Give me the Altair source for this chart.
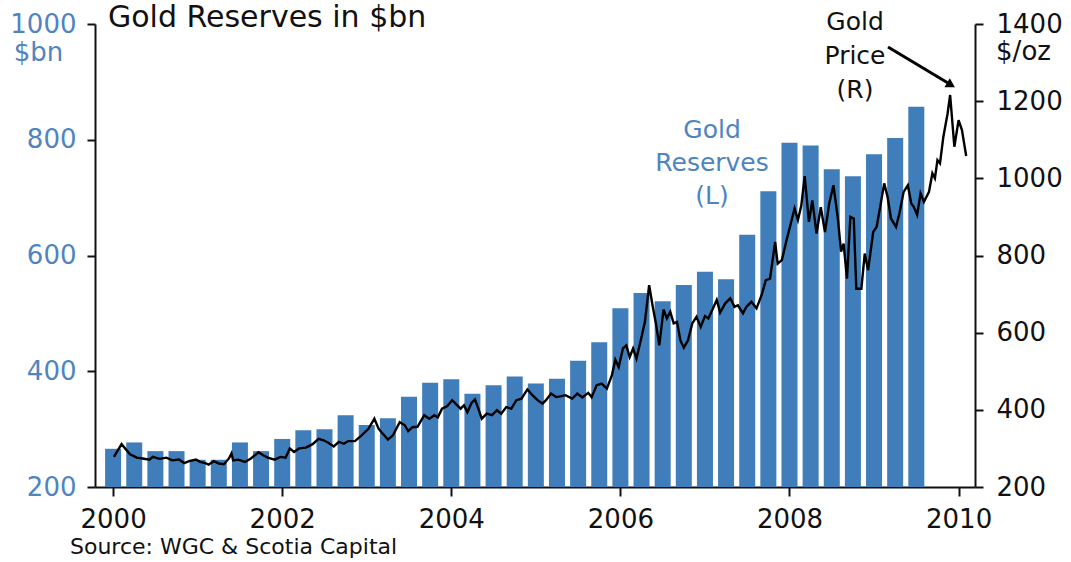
import altair as alt
import pandas as pd

# ---- data ----
quarter_start = [2000 + 0.25 * i for i in range(39)]  # 2000Q1 .. 2009Q3
reserves_bn = [266, 277, 262, 262, 247, 247, 277, 262, 283, 298, 300, 324,
               307, 319, 356, 380, 386, 361, 376, 391, 379, 387, 418, 450,
               509, 535, 521, 549, 572, 559, 636, 711, 795, 790, 749, 737,
               775, 803, 857]

price_t = [2000.01, 2000.10, 2000.20, 2000.28, 2000.35, 2000.43, 2000.47, 2000.55, 2000.63, 2000.70,
           2000.78, 2000.84, 2000.90, 2000.98, 2001.03, 2001.09, 2001.13, 2001.19, 2001.25, 2001.31,
           2001.37, 2001.40, 2001.42, 2001.48, 2001.56, 2001.63, 2001.72, 2001.77, 2001.83, 2001.91,
           2001.98, 2002.04, 2002.09, 2002.14, 2002.20, 2002.28, 2002.36, 2002.43, 2002.49, 2002.55,
           2002.61, 2002.67, 2002.73, 2002.78, 2002.86, 2002.94, 2003.02, 2003.09, 2003.14, 2003.19,
           2003.25, 2003.31, 2003.39, 2003.45, 2003.49, 2003.54, 2003.60, 2003.68, 2003.74, 2003.80,
           2003.84, 2003.89, 2003.95, 2004.01, 2004.05, 2004.11, 2004.15, 2004.19, 2004.24, 2004.28,
           2004.32, 2004.36, 2004.42, 2004.48, 2004.54, 2004.59, 2004.65, 2004.71, 2004.77, 2004.83,
           2004.90, 2004.96, 2005.02, 2005.08, 2005.12, 2005.18, 2005.24, 2005.29, 2005.35, 2005.43,
           2005.49, 2005.55, 2005.62, 2005.66, 2005.72, 2005.78, 2005.84, 2005.90, 2005.94, 2005.98,
           2006.03, 2006.07, 2006.11, 2006.15, 2006.19, 2006.25, 2006.29, 2006.34, 2006.38, 2006.42,
           2006.46, 2006.51, 2006.55, 2006.59, 2006.63, 2006.67, 2006.71, 2006.75, 2006.80, 2006.85,
           2006.90, 2006.95, 2007.00, 2007.04, 2007.10, 2007.14, 2007.18, 2007.24, 2007.30, 2007.35,
           2007.39, 2007.45, 2007.49, 2007.55, 2007.61, 2007.67, 2007.72, 2007.77, 2007.83, 2007.86,
           2007.91, 2007.96, 2008.02, 2008.06, 2008.10, 2008.14, 2008.18, 2008.23, 2008.27, 2008.32,
           2008.37, 2008.42, 2008.47, 2008.52, 2008.57, 2008.61, 2008.64, 2008.68, 2008.72, 2008.76,
           2008.79, 2008.85, 2008.89, 2008.93, 2008.99, 2009.03, 2009.08, 2009.12, 2009.16, 2009.20,
           2009.26, 2009.30, 2009.35, 2009.40, 2009.44, 2009.47, 2009.51, 2009.55, 2009.59, 2009.65,
           2009.69, 2009.72, 2009.75, 2009.78, 2009.82, 2009.87, 2009.90, 2009.95, 2010.00, 2010.04,
           2010.09]
price_usd = [278, 311, 285, 276, 274, 271, 278, 273, 276, 269,
             271, 262, 267, 271, 265, 262, 258, 267, 261, 259,
             274, 287, 269, 271, 265, 274, 290, 283, 276, 271,
             278, 276, 300, 291, 300, 302, 311, 325, 321, 314,
             305, 317, 312, 319, 319, 334, 351, 377, 351, 338,
             323, 334, 368, 360, 345, 355, 356, 386, 377, 386,
             380, 403, 409, 425, 416, 403, 412, 394, 418, 427,
             403, 377, 390, 386, 399, 390, 407, 403, 425, 429,
             453, 438, 425, 416, 425, 442, 433, 435, 438, 429,
             442, 432, 444, 433, 464, 468, 455, 490, 530, 511,
             559, 567, 537, 559, 533, 589, 628, 723, 671, 624,
             567, 660, 637, 654, 624, 628, 580, 561, 580, 624,
             641, 615, 643, 637, 665, 685, 652, 676, 689, 667,
             671, 650, 667, 680, 663, 697, 736, 740, 835, 779,
             788, 835, 887, 922, 892, 930, 1006, 887, 943, 857,
             925, 861, 935, 982, 900, 810, 831, 740, 900, 896,
             714, 714, 805, 762, 861, 874, 935, 987, 952, 896,
             874, 909, 965, 982, 935, 926, 905, 961, 939, 965,
             1013, 1000, 1047, 1039, 1108, 1168, 1216, 1082, 1151, 1125,
             1058]

year_ticks = [2000, 2002, 2004, 2006, 2008, 2010]
left_ticks = [200, 400, 600, 800, 1000]
right_ticks = [200, 400, 600, 800, 1000, 1200, 1400]

BAR = "#3f7dbb"
BLUE_TXT = "#4f84c0"
FONT = "DejaVu Sans"

W, H = 880, 463

bars_df = pd.DataFrame({"t": quarter_start, "reserves": reserves_bn})
price_df = pd.DataFrame({"t": price_t, "price": price_usd})
one = pd.DataFrame({"k": [0]})

xscale = alt.Scale(domain=[1999.845, 2010.135], nice=False, zero=False)

x_axis = alt.Axis(values=year_ticks, format="d", title=None, labelFontSize=26,
                  labelColor="#111111", labelPadding=10, tickSize=9, labelFlush=False)
left_axis = alt.Axis(values=left_ticks, format="d", title="$bn", titleAngle=0, titleX=-57,
                     titleY=28, titleAlign="center", titleBaseline="middle",
                     titleColor=BLUE_TXT, titleFontSize=26, titleFontWeight="normal",
                     titleFont=FONT, labelColor=BLUE_TXT, labelFontSize=26, labelPadding=11,
                     tickSize=8, labelFlush=False)
right_axis = alt.Axis(values=right_ticks, format="d", orient="right", title="$/oz",
                      titleAngle=0, titleX=48, titleY=27, titleAlign="center",
                      titleBaseline="middle", titleColor="#111111", titleFontSize=26,
                      titleFontWeight="normal", titleFont=FONT, labelColor="#111111",
                      labelFontSize=26, labelPadding=13, tickSize=8, labelFlush=False)

bars = alt.Chart(bars_df).mark_bar(size=16, color=BAR).encode(
    x=alt.X("t:Q", scale=xscale, axis=x_axis),
    y=alt.Y("reserves:Q", scale=alt.Scale(domain=[200, 1000], nice=False, zero=False),
            axis=left_axis),
    y2=alt.datum(200),
)

line = alt.Chart(price_df).mark_line(color="#000000", strokeWidth=2.4).encode(
    x=alt.X("t:Q", scale=xscale, axis=x_axis),
    y=alt.Y("price:Q", scale=alt.Scale(domain=[200, 1400], nice=False, zero=False),
            axis=right_axis),
)

title_txt = alt.Chart(one).mark_text(align="left", baseline="alphabetic", fontSize=30,
                                     font=FONT, color="#111111").encode(
    x=alt.value(13), y=alt.value(3), text=alt.value("Gold Reserves in $bn"))

source_txt = alt.Chart(one).mark_text(align="left", baseline="alphabetic", fontSize=22,
                                      font=FONT, color="#111111").encode(
    x=alt.value(-25), y=alt.value(530), text=alt.value("Source: WGC & Scotia Capital"))

res_lbl = alt.Chart(one).mark_text(align="center", baseline="middle", fontSize=25,
                                   font=FONT, color=BLUE_TXT, lineBreak="\n",
                                   lineHeight=33).encode(
    x=alt.value(617), y=alt.value(106), text=alt.value("Gold\nReserves\n(L)"))

price_lbl = alt.Chart(one).mark_text(align="center", baseline="middle", fontSize=25,
                                     font=FONT, color="#111111", lineBreak="\n",
                                     lineHeight=34).encode(
    x=alt.value(760), y=alt.value(-2), text=alt.value("Gold\nPrice\n(R)"))

arrow_line = alt.Chart(one).mark_rule(color="#000000", strokeWidth=3).encode(
    x=alt.value(793), y=alt.value(23), x2=alt.value(853), y2=alt.value(59))

arrow_head = alt.Chart(one).mark_point(shape="triangle-up", filled=True, opacity=1,
                                       color="#000000", size=110, angle=121).encode(
    x=alt.value(856), y=alt.value(61))

chart = alt.layer(bars, line, title_txt, source_txt, res_lbl, price_lbl,
                  arrow_line, arrow_head).resolve_scale(y="independent").properties(
    width=W, height=H,
    autosize=alt.AutoSizeParams(type="none"),
    padding={"left": 95, "top": 24, "right": 96, "bottom": 75},
    background="white",
).configure_view(stroke=None).configure_axis(
    grid=False, domainColor="#111111", domainWidth=2, tickColor="#111111", tickWidth=2,
    labelFont=FONT, titleFont=FONT,
)

chart.save("out.html", embed_options={"renderer": "svg", "actions": False})
